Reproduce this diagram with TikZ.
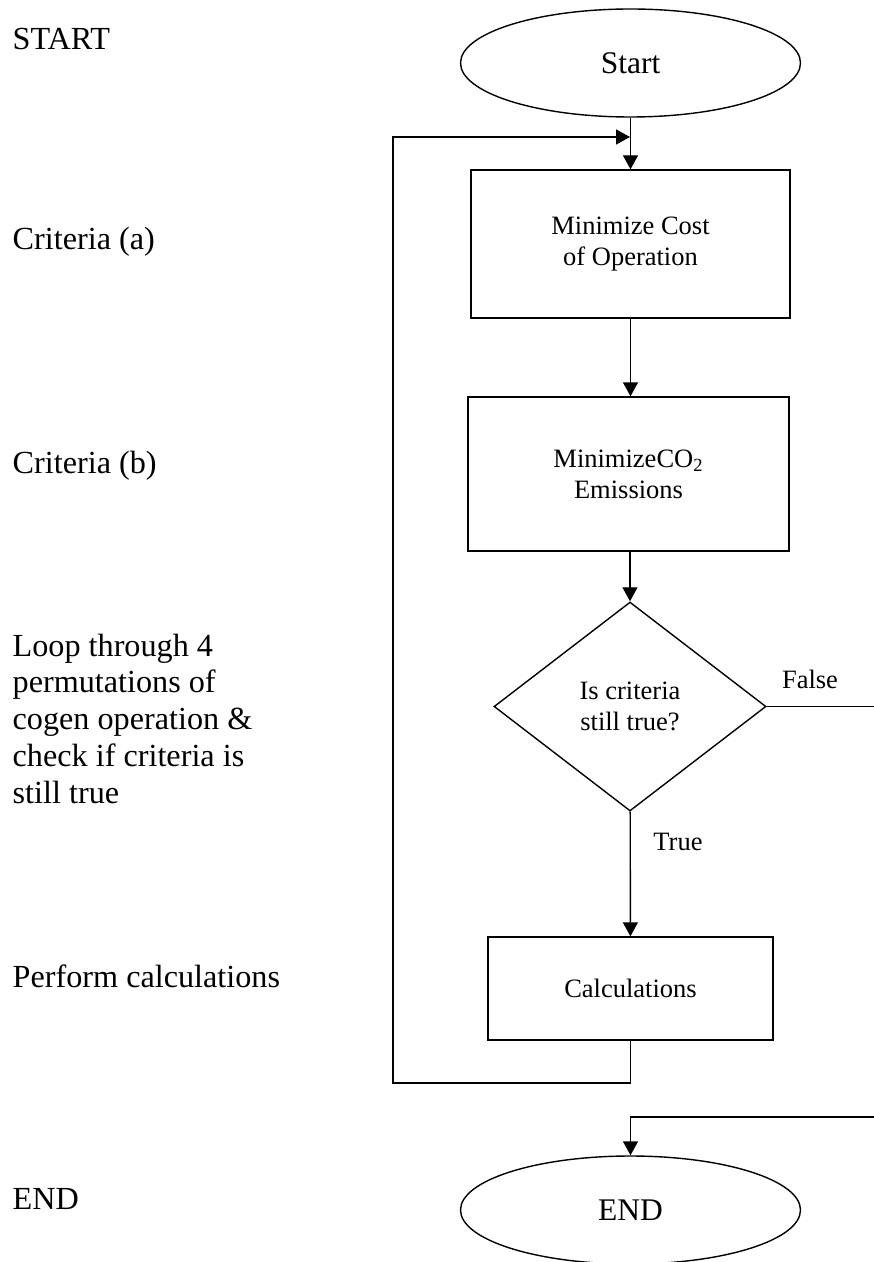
\documentclass[tikz,border=0pt]{standalone}
\usepackage{fontspec}
\setmainfont{Liberation Serif}
\usetikzlibrary{arrows.meta,shapes.geometric,positioning}
\tikzset{
    every picture/.append style={line width=0.7pt},
    terminal/.style={
        draw, ellipse, inner sep=0pt,
        minimum width=170pt, minimum height=54pt,
        font=\fontsize{15.75}{18}\selectfont
    },
    process/.style={
        draw, rectangle, inner sep=0pt, align=center,
        font=\fontsize{13.25}{15.5}\selectfont
    },
    decision/.style={
        draw, diamond, inner sep=0pt, align=center,
        minimum width=136pt, minimum height=104.5pt,
        font=\fontsize{13.25}{15.5}\selectfont
    },
    branch label/.style={inner sep=0pt, font=\fontsize{13.25}{15.5}\selectfont},
    side note/.style={
        inner sep=0pt, align=left,
        font=\fontsize{16.1}{18.4}\selectfont
    },
    flow/.style={-{Triangle[length=7pt,width=7.5pt]}}
}

\begin{document}
\begin{tikzpicture}[x=0.5pt,y=-0.5pt]
\useasboundingbox (0,0) rectangle (873,1262);

% left hand column
\node[side note, anchor=base west] (nstart) at (12,50) {START};
\node[side note, anchor=base west] (ncrita) at (12,250) {Criteria (a)};
\node[side note, anchor=base west] (ncritb) at (12,473) {Criteria (b)};
\node[side note, anchor=north west] (nloop) at (12,633)
    {Loop through 4\\permutations of\\cogen operation \&\\check if criteria is\\still true};
\node[side note, anchor=base west] (ncalc) at (12,987) {Perform calculations};
\node[side note, anchor=base west] (nend) at (12,1209) {END};

% flow chart
\node[terminal] (start) at (630.5,63) {Start};
\node[process, minimum width=159.5pt, minimum height=74pt] (cost) at (630.5,244)
    {Minimize Cost\\of Operation};
\node[process, minimum width=160.5pt, minimum height=77pt] (co2) at (628.5,474)
    {MinimizeCO\textsubscript{2}\\Emissions};
\node[decision] (check) at (630,706.5) {Is criteria\\still true?};
\node[process, minimum width=142.5pt, minimum height=51.5pt] (calc) at (630.5,988.5)
    {Calculations};
\node[terminal] (end) at (630.5,1210) {END};

\node[branch label] (lfalse) at (810,679) {False};
\node[branch label] (ltrue) at (678,842) {True};

\coordinate (merge) at (630,137);
\coordinate (loopbl) at (393,1083);
\coordinate (farright) at (876,1117);

\draw[flow] (start) -- (cost);
\draw[flow] (cost) -- (co2.north -| cost.south);
\draw[flow] (co2.south -| check.north) -- (check);
\draw[flow] (check) -- (calc);
\draw[flow] (calc.south) |- (loopbl) |- (merge);
\draw[flow] (check.east) -| (farright) -| (end.north);
\end{tikzpicture}
\end{document}
